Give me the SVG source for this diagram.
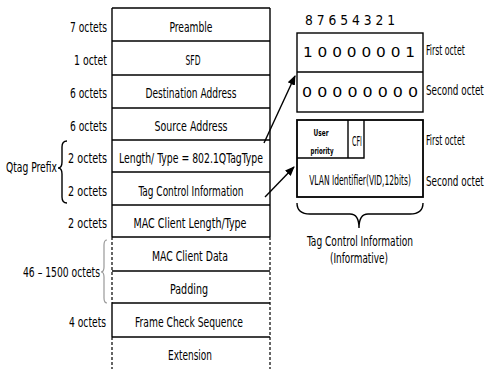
<svg xmlns="http://www.w3.org/2000/svg" width="485" height="369" viewBox="0 0 485 369">
<style>
text{font-family:"Liberation Sans Narrow","DejaVu Sans Condensed","Liberation Sans",sans-serif;font-size:14px;fill:#000}
.c{text-anchor:middle}
.r{text-anchor:end}
.ln{stroke:#000;stroke-width:1.4;fill:none}
.dl{stroke:#000;stroke-width:1.2;fill:none;stroke-dasharray:3 2}
.sm{font-size:9px;font-weight:bold}
</style>
<defs>
<marker id="ah" viewBox="0 0 10 10" refX="9" refY="5" markerWidth="7" markerHeight="7" orient="auto"><path d="M0,1 L10,5 L0,9 Z" fill="#000"/></marker>
</defs>
<g id="frame">
<g id="outline">
<line class="ln" x1="112" y1="8" x2="270" y2="8"/>
<line class="ln" x1="112" y1="8" x2="112" y2="237"/>
<line class="ln" x1="270" y1="8" x2="270" y2="237"/>
<line class="dl" x1="112" y1="237" x2="112" y2="303"/>
<line class="ln" x1="112" y1="303" x2="112" y2="337"/>
<line class="dl" x1="112" y1="337" x2="112" y2="369"/>
<line class="dl" x1="270" y1="237" x2="270" y2="369"/>
</g>
<g id="preamble"><text class="c" x="191" y="32" textLength="43" lengthAdjust="spacingAndGlyphs">Preamble</text></g>
<g id="sfd"><line class="ln" x1="112" y1="41" x2="270" y2="41"/><text class="c" x="193" y="65" textLength="15" lengthAdjust="spacingAndGlyphs">SFD</text></g>
<g id="dest"><line class="ln" x1="112" y1="75" x2="270" y2="75"/><text class="c" x="191" y="98" textLength="91" lengthAdjust="spacingAndGlyphs">Destination Address</text></g>
<g id="src"><line class="ln" x1="112" y1="108" x2="270" y2="108"/><text class="c" x="191" y="131" textLength="73" lengthAdjust="spacingAndGlyphs">Source Address</text></g>
<g id="lentype"><line class="ln" x1="112" y1="140" x2="270" y2="140"/><text class="c" x="191" y="163" textLength="144" lengthAdjust="spacingAndGlyphs">Length/ Type = 802.1QTagType</text></g>
<g id="tci"><line class="ln" x1="112" y1="172" x2="270" y2="172"/><text class="c" x="191" y="196" textLength="105" lengthAdjust="spacingAndGlyphs">Tag Control Information</text></g>
<g id="maclen"><line class="ln" x1="112" y1="205" x2="270" y2="205"/><text class="c" x="190" y="228" textLength="113" lengthAdjust="spacingAndGlyphs">MAC Client Length/Type</text></g>
<g id="macdata"><line class="ln" x1="112" y1="237" x2="270" y2="237"/><text class="c" x="190" y="261" textLength="76" lengthAdjust="spacingAndGlyphs">MAC Client Data</text></g>
<g id="padding"><line class="ln" x1="112" y1="271" x2="270" y2="271"/><text class="c" x="189" y="294" textLength="38" lengthAdjust="spacingAndGlyphs">Padding</text></g>
<g id="fcs"><line class="ln" x1="112" y1="303" x2="270" y2="303"/><text class="c" x="189" y="327" textLength="108" lengthAdjust="spacingAndGlyphs">Frame Check Sequence</text></g>
<g id="ext"><line class="ln" x1="112" y1="337" x2="270" y2="337"/><text class="c" x="190" y="360" textLength="44" lengthAdjust="spacingAndGlyphs">Extension</text></g>
</g>
<g id="sizes">
<text class="r" x="107" y="32" textLength="37" lengthAdjust="spacingAndGlyphs">7 octets</text>
<text class="r" x="107" y="65" textLength="33" lengthAdjust="spacingAndGlyphs">1 octet</text>
<text class="r" x="107" y="98" textLength="37" lengthAdjust="spacingAndGlyphs">6 octets</text>
<text class="r" x="107" y="131" textLength="37" lengthAdjust="spacingAndGlyphs">6 octets</text>
<text class="r" x="107" y="163" textLength="39" lengthAdjust="spacingAndGlyphs">2 octets</text>
<text class="r" x="107" y="196" textLength="39" lengthAdjust="spacingAndGlyphs">2 octets</text>
<text class="r" x="107" y="228" textLength="39" lengthAdjust="spacingAndGlyphs">2 octets</text>
<text class="r" x="100" y="277" textLength="77" lengthAdjust="spacingAndGlyphs">46 – 1500 octets</text>
<text class="r" x="106" y="327" textLength="37" lengthAdjust="spacingAndGlyphs">4 octets</text>
<text x="6" y="172" textLength="51" lengthAdjust="spacingAndGlyphs">Qtag Prefix</text>
</g>
<g id="braces">
<path class="ln" d="M67,141 Q62,141 62,147 L62,162 Q62,168 58,168 Q62,168 62,174 L62,197 Q62,203 67,203"/>
<path d="M107,240 Q104,240 104,245 L104,267 Q104,272 101,272 Q104,272 104,277 L104,298 Q104,303 107,303" fill="none" stroke="#999" stroke-width="1.2"/>
<path class="ln" d="M297,203 Q297,214 310,214 L350,214 Q359,214 359,228 Q359,214 368,214 L410,214 Q423,214 423,203"/>
</g>
<g id="ethertype">
<text x="305" y="25" textLength="90" lengthAdjust="spacingAndGlyphs">8 7 6 5 4 3 2 1</text>
<rect class="ln" x="297" y="33" width="126" height="79"/>
<line class="ln" x1="297" y1="72" x2="423" y2="72"/>
<text x="303" y="57" textLength="112" lengthAdjust="spacingAndGlyphs">1 0 0 0 0 0 0 1</text>
<text x="302" y="97" textLength="116" lengthAdjust="spacingAndGlyphs">0 0 0 0 0 0 0 0</text>
<text transform="translate(426,55) scale(0.62,1)" font-size="13">First octet</text>
<text transform="translate(426,95) scale(0.7,1)" font-size="13">Second octet</text>
</g>
<g id="tcibox">
<rect x="297" y="120" width="126" height="77" fill="none" stroke="#000" stroke-width="1.8"/>
<path class="ln" d="M297,158 L364,158 L364,120 M348,120 L348,158"/>
<text class="c sm" x="321" y="136" textLength="15" lengthAdjust="spacingAndGlyphs">User</text>
<text class="c sm" x="322" y="154" textLength="23" lengthAdjust="spacingAndGlyphs">priority</text>
<text class="c" x="357" y="146" font-size="10" textLength="10" lengthAdjust="spacingAndGlyphs">CFI</text>
<text class="c" transform="translate(360,185) scale(0.6,1)" font-size="12">VLAN Identifier(VID,12bits)</text>
<text transform="translate(426,145) scale(0.62,1)" font-size="13">First octet</text>
<text transform="translate(426,186) scale(0.7,1)" font-size="13">Second octet</text>
<text class="c" x="360" y="246" textLength="106" lengthAdjust="spacingAndGlyphs">Tag Control Information</text>
<text class="c" x="359" y="263" textLength="58" lengthAdjust="spacingAndGlyphs">(Informative)</text>
</g>
<g id="connectors">
<line class="ln" x1="264" y1="143" x2="295" y2="76" marker-end="url(#ah)"/>
<line class="ln" x1="265" y1="197" x2="294" y2="167" marker-end="url(#ah)"/>
</g>
</svg>
